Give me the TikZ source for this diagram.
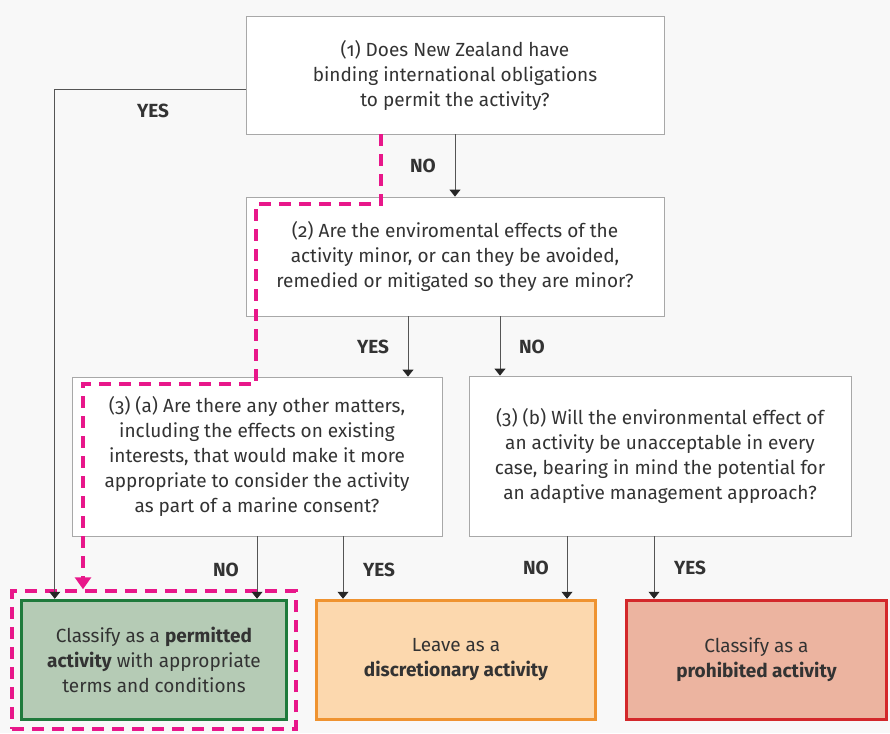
\documentclass[tikz,border=0pt]{standalone}
\usepackage{fontspec}
\setmainfont{Fira Sans}[Numbers=OldStyle]
\usetikzlibrary{arrows.meta,fit,positioning}
\definecolor{ink}{HTML}{333333}
\definecolor{bggrey}{HTML}{F8F8F8}
\definecolor{boxgrey}{HTML}{A8A8A8}
\definecolor{linegrey}{HTML}{555555}
\definecolor{okgreen}{HTML}{1F7A3C}
\definecolor{okgreenlt}{HTML}{B5CBB5}
\definecolor{discor}{HTML}{EF9330}
\definecolor{discorlt}{HTML}{FCD8AE}
\definecolor{prohred}{HTML}{D3282B}
\definecolor{prohredlt}{HTML}{ECB4A0}
\definecolor{pick}{HTML}{E8178A}

\begin{document}
\begin{tikzpicture}[x=1pt,y=-1pt,font=\fontsize{19}{25}\selectfont,text=ink,
  qbox/.style={draw=boxgrey,fill=white,line width=0.8pt,align=center,inner sep=0pt},
  outc/.style={line width=3.5pt,align=center,inner sep=0pt,minimum height=119pt},
  lbl/.style={font=\fontsize{19}{20}\selectfont\bfseries},
  a/.style={-{Triangle[width=11pt,length=7pt,color=black!85]},draw=linegrey,line width=0.8pt},
  pk/.style={draw=pick,line width=4pt,dash pattern=on 12pt off 8pt}]

\fill[bggrey](0,0) rectangle (890,733);
\useasboundingbox(0,0) rectangle (890,733);

% questions
\node[qbox,minimum width=418pt,minimum height=118pt](q1) at (455,75)
  {(1) Does New Zealand have\\binding international obligations\\to permit the activity?};
\node[qbox,minimum width=418pt,minimum height=119pt](q2) at (455,256.5)
  {(2) Are the enviromental effects of the\\activity minor, or can they be avoided,\\remedied or mitigated so they are minor?};
\node[qbox,minimum width=370pt,minimum height=159pt](q3a) at (257,456.5)
  {(3) (a) Are there any other matters,\\including the effects on existing\\interests, that would make it more\\appropriate to consider the activity\\as part of a marine consent?};
\node[qbox,minimum width=382pt,minimum height=160pt](q3b) at (660,456)
  {(3) (b) Will the environmental effect of\\an activity be unacceptable in every\\case, bearing in mind the potential for\\an adaptive management approach?};

% outcomes
\node[outc,draw=okgreen,fill=okgreenlt,minimum width=265pt](perm) at (154,660)
  {Classify as a \textbf{permitted}\\\textbf{activity} with appropriate\\terms and conditions};
\node[outc,draw=discor,fill=discorlt,minimum width=279pt](disc) at (456,660)
  {Leave as a\\\textbf{discretionary activity}};
\node[outc,draw=prohred,fill=prohredlt,minimum width=260pt](proh) at (756.5,660)
  {Classify as a\\\textbf{prohibited activity}};
\node[pk,fit=(perm),inner sep=7.5pt](frame){};

% connectors
\draw[a]([yshift=-14pt]q1.west) -| ([xshift=35pt]perm.north west);
\draw[a](q1.south)--(q2.north);
\draw[a]([xshift=-47pt]q2.south)--([xshift=-47pt]q2.south |- q3a.north);
\draw[a]([xshift=45pt]q2.south)--([xshift=45pt]q2.south |- q3b.north);
\draw[a](q3a.south)--(q3a.south |- perm.north);
\draw[a]([xshift=86pt]q3a.south)--([xshift=86pt]q3a.south |- disc.north);
\draw[a]([xshift=-93pt]q3b.south)--([xshift=-93pt]q3b.south |- disc.north);
\draw[a]([xshift=-6pt]q3b.south)--([xshift=-6pt]q3b.south |- proh.north);

% highlighted route
\coordinate(k1) at (256,204); \coordinate(k2) at (83,384);
\draw[pk,-{Triangle[width=16pt,length=12pt]}]([xshift=-74pt]q1.south) |- (k1) |- (k2) -- (k2 |- frame.north);

% answers
\node[lbl](y1) at (153,111){YES}; \node[lbl](n1) at (423,166){NO};
\node[lbl](y2) at (373,347){YES}; \node[lbl](n2) at (532,347){NO};
\node[lbl](n3) at (226,570){NO}; \node[lbl](y3) at (379,570){YES};
\node[lbl](n4) at (536,568){NO}; \node[lbl](y4) at (690,568){YES};
\end{tikzpicture}
\end{document}
